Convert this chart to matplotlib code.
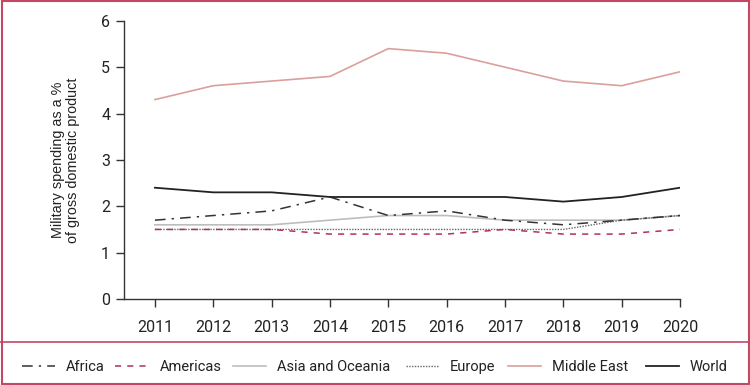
import matplotlib.pyplot as plt
from matplotlib.patches import Rectangle
from matplotlib.lines import Line2D

years = [2011, 2012, 2013, 2014, 2015, 2016, 2017, 2018, 2019, 2020]
africa = [1.7, 1.8, 1.9, 2.2, 1.8, 1.9, 1.7, 1.6, 1.7, 1.8]
americas = [1.5, 1.5, 1.5, 1.4, 1.4, 1.4, 1.5, 1.4, 1.4, 1.5]
asia_oceania = [1.6, 1.6, 1.6, 1.7, 1.8, 1.8, 1.7, 1.7, 1.7, 1.8]
europe = [1.5, 1.5, 1.5, 1.5, 1.5, 1.5, 1.5, 1.5, 1.7, 1.8]
middle_east = [4.3, 4.6, 4.7, 4.8, 5.4, 5.3, 5.0, 4.7, 4.6, 4.9]
world = [2.4, 2.3, 2.3, 2.2, 2.2, 2.2, 2.2, 2.1, 2.2, 2.4]

frame_col = '#c44866'
font = ['Roboto', 'DejaVu Sans']

fig = plt.figure(figsize=(7.5, 3.85), dpi=100)
ax = fig.add_axes([0.1653, 0.2234, 0.9067 - 0.1653, 0.946 - 0.2234])

ax.plot(years, asia_oceania, color='#bdbdbd', lw=1.2, label='Asia and Oceania')
ax.plot(years, europe, color='#666666', lw=1.0, ls=(0, (1, 1)), label='Europe')
ax.plot(years, americas, color='#b0305a', lw=1.1, ls=(0, (4, 4)), label='Americas')
ax.plot(years, africa, color='#333333', lw=1.1, ls=(0, (7, 4, 1.5, 4)), label='Africa')
ax.plot(years, middle_east, color='#d9a09c', lw=1.2, label='Middle East')
ax.plot(years, world, color='#222222', lw=1.3, label='World')

ax.set_xlim(2010.47, 2020)
ax.set_ylim(0, 6)
ax.set_xticks(years)
ax.set_yticks(range(0, 7))
for s in ['top', 'right']:
    ax.spines[s].set_visible(False)
for s in ['left', 'bottom']:
    ax.spines[s].set_color('#333333')
    ax.spines[s].set_linewidth(1.0)
ax.tick_params(direction='out', length=6, width=1, color='#333333', labelsize=11.5, pad=4)
ax.tick_params(axis='x', pad=9)
for lab in ax.get_xticklabels() + ax.get_yticklabels():
    lab.set_family(font)
    lab.set_color('#222222')
ax.set_ylabel('Military spending as a %\nof gross domestic product', fontsize=10.4,
              family=['Liberation Sans', 'DejaVu Sans'],
              color='#222222', linespacing=1.1, labelpad=15)

# outer frame and separator
fig.patches.append(Rectangle((0.002, 0.003), 0.996, 0.994, transform=fig.transFigure,
                             fill=False, ec=frame_col, lw=1.5))
fig.lines.append(Line2D([0, 1], [1 - 341.5 / 385, 1 - 341.5 / 385], transform=fig.transFigure,
                        color=frame_col, lw=1.2))

order = ['Africa', 'Americas', 'Asia and Oceania', 'Europe', 'Middle East', 'World']
# left edge of each legend handle, in pixels
leg_x = [21.5, 115, 232.5, 405.5, 507.5, 645.5]
handles, labels = ax.get_legend_handles_labels()
hmap = dict(zip(labels, handles))
for name, x in zip(order, leg_x):
    leg = fig.legend([hmap[name]], [name], loc='center left',
                     bbox_to_anchor=(x / 750, 1 - 367 / 385), frameon=False,
                     handlelength=2.3, handletextpad=0.75, borderaxespad=0, borderpad=0,
                     prop={'family': font, 'size': 10.5})
    for t in leg.get_texts():
        t.set_color('#222222')

fig.savefig('out.png', dpi=100)
